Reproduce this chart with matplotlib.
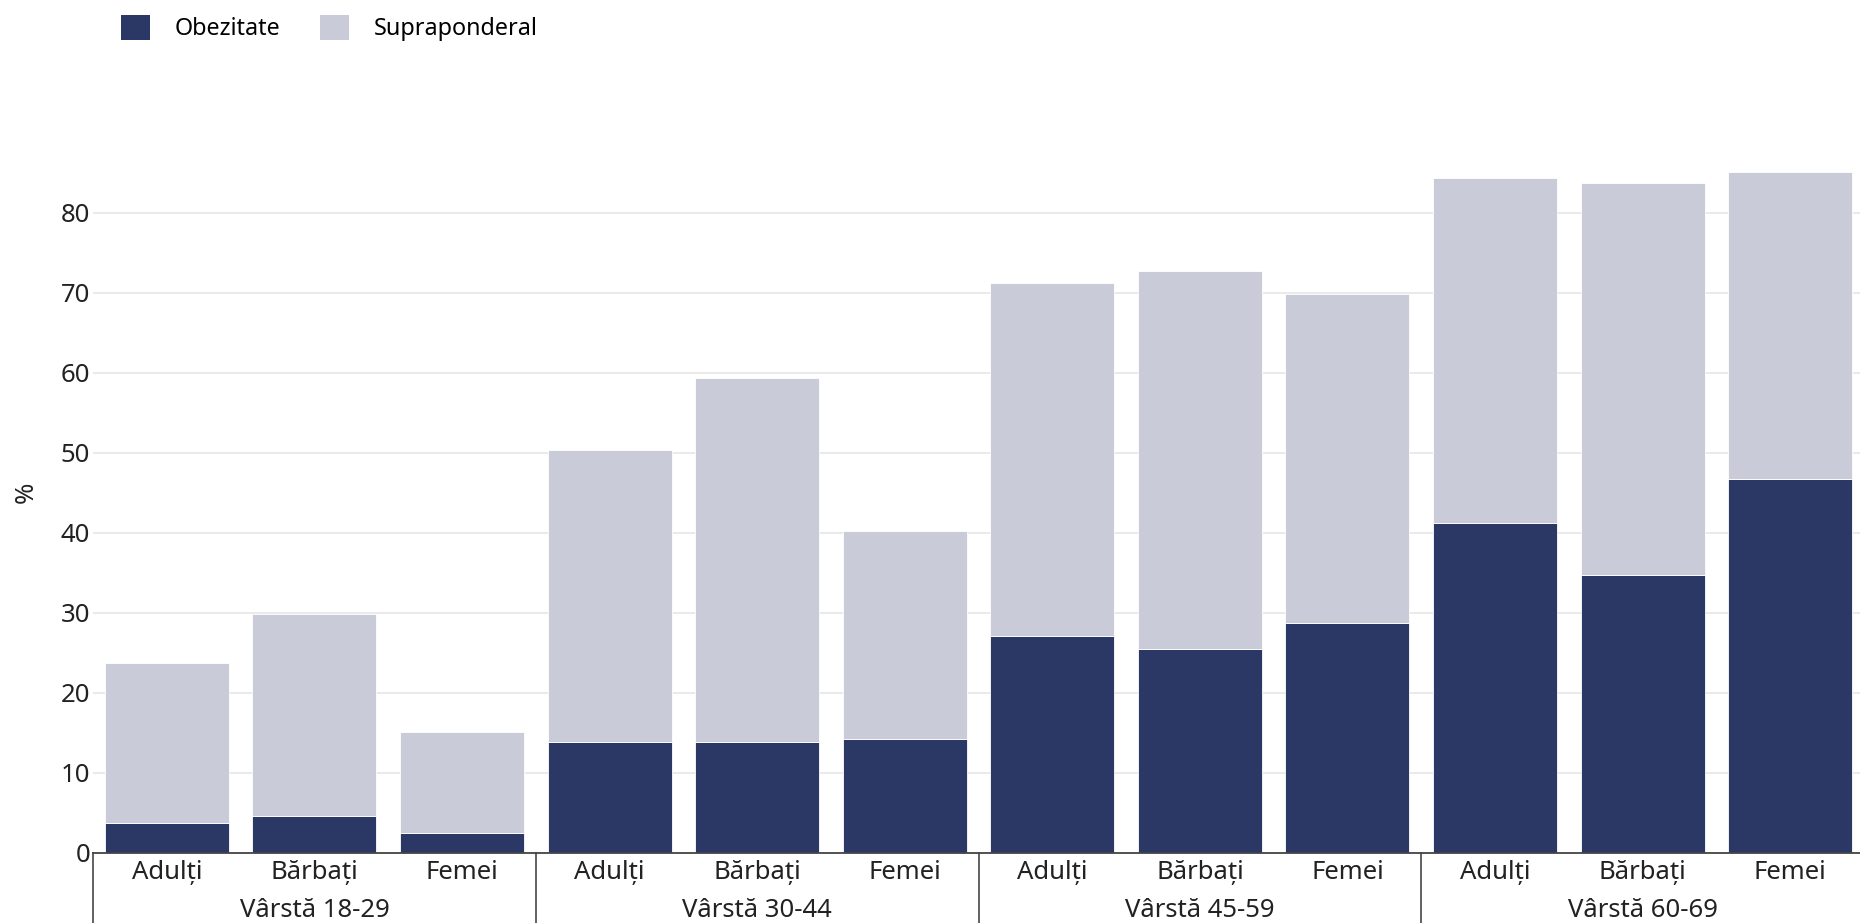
import matplotlib.pyplot as plt
from matplotlib.patches import Patch
from matplotlib.transforms import blended_transform_factory

plt.rcParams['font.family'] = ['Noto Sans', 'DejaVu Sans']

# date
grupe = ['Vârstă 18-29', 'Vârstă 30-44', 'Vârstă 45-59', 'Vârstă 60-69']
categorii = ['Adulți', 'Bărbați', 'Femei']
obezitate = [3.8, 4.6, 2.5,
             13.9, 13.9, 14.2,
             27.1, 25.5, 28.7,
             41.3, 34.7, 46.8]
supraponderal = [19.9, 25.3, 12.6,
                 36.5, 45.5, 26.1,
                 44.2, 47.2, 41.2,
                 43.1, 49.0, 38.3]

c_obez = '#2b3765'
c_supra = '#c9ccd8'
c_text = '#222222'
fs = 18.5

W, H = 1860, 923
fig = plt.figure(figsize=(W / 100, H / 100), dpi=100)
ax = fig.add_axes([93 / W, (H - 853) / H, (1864 - 93) / W, 720 / H])

x = list(range(len(obezitate)))
ax.bar(x, obezitate, width=0.84, color=c_obez, edgecolor='white', linewidth=0.6, zorder=3)
ax.bar(x, supraponderal, width=0.84, bottom=obezitate, color=c_supra,
       edgecolor='white', linewidth=0.6, zorder=3)

ax.set_xlim(-0.5, len(x) - 0.5)
ax.set_ylim(0, 90)
ax.set_yticks(range(0, 90, 10))
ax.yaxis.grid(True, color='#e6e6e6', linewidth=1.2, zorder=0)
ax.tick_params(axis='y', length=0, pad=2, labelsize=fs, labelcolor=c_text)

# eticheta axei y
fig.text(26 / W, 1 - 492 / H, '%', rotation=90, ha='center', va='center',
         fontsize=fs, color=c_text)

for s in ['top', 'right', 'left']:
    ax.spines[s].set_visible(False)
ax.spines['bottom'].set_color('#444444')
ax.spines['bottom'].set_linewidth(1.3)
ax.spines['bottom'].set_zorder(4)

ax.set_xticks(x)
ax.set_xticklabels(categorii * len(grupe), fontsize=fs, color=c_text)
ax.tick_params(axis='x', length=0, pad=5)

tr = blended_transform_factory(ax.transData, ax.transAxes)
for i, g in enumerate(grupe):
    ax.text(i * 3 + 1, -0.089, g, transform=tr, ha='center', va='baseline',
            fontsize=fs, color=c_text)
for i in range(len(grupe) + 1):
    ax.plot([i * 3 - 0.5, i * 3 - 0.5], [0, -0.1], transform=tr, color='#555555',
            linewidth=1.3, clip_on=False)

handles = [Patch(facecolor=c_obez, label='Obezitate'),
           Patch(facecolor=c_supra, label='Supraponderal')]
fig.legend(handles=handles, loc='center left', bbox_to_anchor=(100 / W, 1 - 28 / H),
           ncol=2, frameon=False, fontsize=16.8, handlelength=1.25, handleheight=1.25,
           handletextpad=1.05, columnspacing=1.7)

fig.savefig('out.png', dpi=100)
